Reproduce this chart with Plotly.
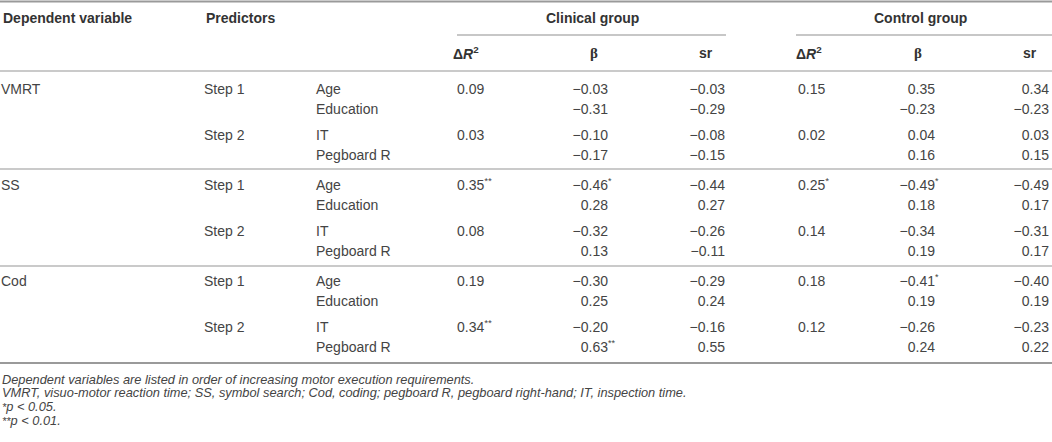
import plotly.graph_objects as go

# dados da tabela
dep_vars = ["VMRT", "SS", "Cod"]
steps = ["Step 1", "Step 2"]
predictors = ["Age", "Education", "IT", "Pegboard R"]

# delta R2 por passo (VMRT s1, VMRT s2, SS s1, SS s2, Cod s1, Cod s2)
clin_dr2 = [0.09, 0.03, 0.35, 0.08, 0.19, 0.34]
clin_dr2_sig = ["", "", "**", "", "", "**"]
ctrl_dr2 = [0.15, 0.02, 0.25, 0.14, 0.18, 0.12]
ctrl_dr2_sig = ["", "", "*", "", "", ""]

# beta e sr por preditor (4 por variavel dependente)
clin_beta = [-0.03, -0.31, -0.10, -0.17, -0.46, 0.28, -0.32, 0.13, -0.30, 0.25, -0.20, 0.63]
clin_beta_sig = ["", "", "", "", "*", "", "", "", "", "", "", "**"]
clin_sr = [-0.03, -0.29, -0.08, -0.15, -0.44, 0.27, -0.26, -0.11, -0.29, 0.24, -0.16, 0.55]
ctrl_beta = [0.35, -0.23, 0.04, 0.16, -0.49, 0.18, -0.34, 0.19, -0.41, 0.19, -0.26, 0.24]
ctrl_beta_sig = ["", "", "", "", "*", "", "", "", "*", "", "", ""]
ctrl_sr = [0.34, -0.23, 0.03, 0.15, -0.49, 0.17, -0.31, 0.17, -0.40, 0.19, -0.23, 0.22]

footnotes = [
    "Dependent variables are listed in order of increasing motor execution requirements.",
    "VMRT, visuo-motor reaction time; SS, symbol search; Cod, coding; pegboard R, pegboard right-hand; IT, inspection time.",
    "<span style='font-size:11px'>*</span>p < 0.05.",
    "<span style='font-size:11px'>**</span>p < 0.01.",
]

W, H = 1052, 442
FONT = "Liberation Sans"
TXT = "#444444"
SIZE = 14

# posicoes das colunas (px)
X_DEP, X_STEP, X_PRED = 1, 204, 316
X_CDR2, X_CBETA, X_CSR = 457, 608, 725
X_KDR2, X_KBETA, X_KSR = 798, 935, 1049

LINES_Y = [71, 169, 266, 363]
row_off = [0, 20, 46, 66]


def fmt(v):
    return f"{v:.2f}".replace("-", "\u2212")


def row_y(g, k):
    return 90 + 96 * g + row_off[k]


# monta as listas de celulas
ys = [row_y(g, k) for g in range(len(dep_vars)) for k in range(4)]
step_y = [row_y(g, 2 * s) for g in range(len(dep_vars)) for s in range(2)]
dep_y = [row_y(g, 0) for g in range(len(dep_vars))]

fig = go.Figure()


def add_text(xs, yy, texts, pos, size=SIZE, family=FONT):
    fig.add_trace(go.Scatter(
        x=xs, y=yy, text=texts, mode="text", textposition=pos,
        textfont=dict(family=family, size=size, color=TXT),
        hoverinfo="skip", showlegend=False, cliponaxis=False,
    ))


add_text([X_DEP] * len(dep_vars), dep_y, dep_vars, "middle right")
add_text([X_STEP] * len(step_y), step_y, steps * len(dep_vars), "middle right")
add_text([X_PRED] * len(ys), ys, predictors * len(dep_vars), "middle right")

add_text([X_CDR2] * len(step_y), step_y,
         [fmt(v) + (f"<sup>{s}</sup>" if s else "") for v, s in zip(clin_dr2, clin_dr2_sig)],
         "middle right")
add_text([X_KDR2] * len(step_y), step_y,
         [fmt(v) + (f"<sup>{s}</sup>" if s else "") for v, s in zip(ctrl_dr2, ctrl_dr2_sig)],
         "middle right")

for xr, vals in [(X_CBETA, clin_beta), (X_CSR, clin_sr), (X_KBETA, ctrl_beta), (X_KSR, ctrl_sr)]:
    add_text([xr] * len(ys), ys, [fmt(v) for v in vals], "middle left")

# asteriscos pendurados a direita dos betas
for xr, sig in [(X_CBETA, clin_beta_sig), (X_KBETA, ctrl_beta_sig)]:
    idx = [i for i, s in enumerate(sig) if s]
    add_text([xr] * len(idx), [ys[i] - 4 for i in idx], [sig[i] for i in idx],
             "middle right", size=9)

# cabecalho
hdr = dict(family=FONT, size=SIZE, color="#333333")
ann = []


def a(x, y, t, anchor="left", font=hdr):
    ann.append(dict(x=x, y=y, xref="x", yref="y", text=t, showarrow=False,
                    xanchor=anchor, yanchor="middle", font=font))


a(X_DEP, 18, "<b>Dependent variable</b>")
a(X_STEP, 18, "<b>Predictors</b>")
a(592, 18, "<b>Clinical group</b>", "center")
a(920, 18, "<b>Control group</b>", "center")
dr2_txt = "<b>\u0394<i>R</i><sup>2</sup></b>"
a(451, 53, dr2_txt)
a(794, 53, dr2_txt)
beta_font = dict(family="Liberation Serif", size=15, color="#333333")
a(594, 53, "<b>\u03b2</b>", "center", beta_font)
a(918, 53, "<b>\u03b2</b>", "center", beta_font)
a(706, 53, "<b>sr</b>", "center")
a(1030, 53, "<b>sr</b>", "center")

foot_font = dict(family=FONT, size=12.8, color=TXT)
for i, t in enumerate(footnotes):
    a(0, 379 + 13.7 * i, f"<i>{t}</i>", font=foot_font)

# linhas horizontais
shapes = []
shapes.append(dict(type="line", x0=0, x1=W, y0=1.5, y1=1.5, xref="x", yref="y",
                   line=dict(color="#9a9a9a", width=2)))
shapes.append(dict(type="line", x0=457, x1=726, y0=35, y1=35, xref="x", yref="y",
                   line=dict(color="#b5b5b5", width=1.5)))
shapes.append(dict(type="line", x0=796, x1=W, y0=35, y1=35, xref="x", yref="y",
                   line=dict(color="#b5b5b5", width=1.5)))
for j, yl in enumerate(LINES_Y):
    shapes.append(dict(type="line", x0=0, x1=W, y0=yl, y1=yl, xref="x", yref="y",
                       line=dict(color="#9a9a9a" if j == len(LINES_Y) - 1 else "#b8b8b8",
                                 width=2 if j == len(LINES_Y) - 1 else 1.5)))

fig.update_layout(
    width=W, height=H,
    margin=dict(l=0, r=0, t=0, b=0),
    paper_bgcolor="white", plot_bgcolor="white",
    xaxis=dict(range=[0, W], visible=False, fixedrange=True),
    yaxis=dict(range=[H, 0], visible=False, fixedrange=True),
    annotations=ann, shapes=shapes,
)

# tira a margem padrao do body pra tabela encostar na borda
fig.write_html("out.html", post_script="document.body.style.margin='0';",
               config={"displayModeBar": False})
